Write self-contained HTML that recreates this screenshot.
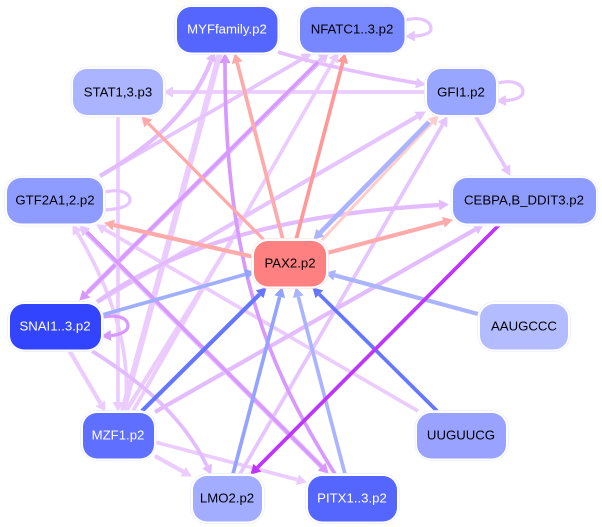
<!DOCTYPE html>
<html><head><meta charset="utf-8"><style>html,body{margin:0;padding:0;background:#fff}svg{display:block;filter:blur(0.3px)}text{font-family:"Liberation Sans",sans-serif;font-size:13.2px;text-anchor:middle}</style></head><body>
<svg width="602" height="527" viewBox="0 0 602 527" xmlns="http://www.w3.org/2000/svg">
<defs>
<marker id="a" markerUnits="userSpaceOnUse" markerWidth="11" markerHeight="11" refX="0" refY="5.5" orient="auto"><polygon points="0,0 10,5.5 0,11" fill="#ecccff"/></marker>
<marker id="b" markerUnits="userSpaceOnUse" markerWidth="11" markerHeight="11" refX="0" refY="5.5" orient="auto"><polygon points="0,0 10,5.5 0,11" fill="#e6c4ff"/></marker>
<marker id="c" markerUnits="userSpaceOnUse" markerWidth="11" markerHeight="11" refX="0" refY="5.5" orient="auto"><polygon points="0,0 10,5.5 0,11" fill="#e3bbff"/></marker>
<marker id="d" markerUnits="userSpaceOnUse" markerWidth="11" markerHeight="11" refX="0" refY="5.5" orient="auto"><polygon points="0,0 10,5.5 0,11" fill="#d899ff"/></marker>
<marker id="e" markerUnits="userSpaceOnUse" markerWidth="11" markerHeight="11" refX="0" refY="5.5" orient="auto"><polygon points="0,0 10,5.5 0,11" fill="#ffaaaa"/></marker>
<marker id="f" markerUnits="userSpaceOnUse" markerWidth="11" markerHeight="11" refX="0" refY="5.5" orient="auto"><polygon points="0,0 10,5.5 0,11" fill="#ff9999"/></marker>
<marker id="g" markerUnits="userSpaceOnUse" markerWidth="11" markerHeight="11" refX="0" refY="5.5" orient="auto"><polygon points="0,0 10,5.5 0,11" fill="#ffcccc"/></marker>
<marker id="h" markerUnits="userSpaceOnUse" markerWidth="11" markerHeight="11" refX="0" refY="5.5" orient="auto"><polygon points="0,0 10,5.5 0,11" fill="#aab4ff"/></marker>
<marker id="i" markerUnits="userSpaceOnUse" markerWidth="11" markerHeight="11" refX="0" refY="5.5" orient="auto"><polygon points="0,0 10,5.5 0,11" fill="#93a3ff"/></marker>
<marker id="j" markerUnits="userSpaceOnUse" markerWidth="11" markerHeight="11" refX="0" refY="5.5" orient="auto"><polygon points="0,0 10,5.5 0,11" fill="#6677ff"/></marker>
<marker id="k" markerUnits="userSpaceOnUse" markerWidth="11" markerHeight="11" refX="0" refY="5.5" orient="auto"><polygon points="0,0 10,5.5 0,11" fill="#c033ff"/></marker>
</defs>
<g fill="none" stroke-linecap="butt">
<path d="M118,116V402" stroke="#ecccff" stroke-width="3.7" marker-end="url(#a)"/>
<path d="M220,53L123,411" stroke="#ecccff" stroke-width="6"/>
<path d="M427,92H173" stroke="#ecccff" stroke-width="3.7" marker-end="url(#a)"/>
<path d="M418,411L104.8,229.5" stroke="#ecccff" stroke-width="3.7" marker-end="url(#a)"/>
<path d="M133,411L333.5,60.8" stroke="#ecccff" stroke-width="3.7" marker-end="url(#a)"/>
<path d="M126,411L232,240" stroke="#ecccff" stroke-width="4.2"/>
<path d="M155,442L297.3,479.7" stroke="#ecccff" stroke-width="3.7" marker-end="url(#a)"/>
<path d="M155,456L183.1,471.6" stroke="#ecccff" stroke-width="4.2" marker-end="url(#a)"/>
<path d="M69,350L100.4,403.2" stroke="#ecccff" stroke-width="4.2" marker-end="url(#a)"/>
<path d="M125,411Q135,330 77.5,233" stroke="#ecccff" stroke-width="3.7" marker-end="url(#a)"/>
<path d="M100,176L303,58.5" stroke="#e6c4ff" stroke-width="3.7" marker-end="url(#b)"/>
<path d="M278,52Q330,68 416,83" stroke="#e6bfff" stroke-width="3.7" marker-end="url(#b)"/>
<path d="M476,117L505.4,167.2" stroke="#e6c4ff" stroke-width="3.7" marker-end="url(#b)"/>
<path d="M240,474L442.5,124.8" stroke="#e6c4ff" stroke-width="3.7" marker-end="url(#b)"/>
<path d="M97,302L417.2,116.5" stroke="#e6c4ff" stroke-width="4.2" marker-end="url(#b)"/>
<path d="M97,302C170,250 270,215 439,205" stroke="#e3bbff" stroke-width="4.2" marker-end="url(#c)"/>
<path d="M155,412L475.2,229.5" stroke="#e3bbff" stroke-width="4.2" marker-end="url(#c)"/>
<path d="M100,176C145,150 190,115 211,61" stroke="#e3bbff" stroke-width="4.2" marker-end="url(#c)"/>
<path d="M92,351C130,375 180,410 207,466" stroke="#e3bbff" stroke-width="3.7" marker-end="url(#c)"/>
<path d="M88,292L321.6,59.4" stroke="#e6c4ff" stroke-width="5.2" marker-end="url(#b)"/>
<path d="M318,62L86.4,293.6" stroke="#d899ff" stroke-width="3.5" marker-end="url(#d)"/>
<path d="M325,470L86.4,232.4" stroke="#e6c4ff" stroke-width="5.2" marker-end="url(#b)"/>
<path d="M87,232L321.6,466.6" stroke="#d899ff" stroke-width="3.5" marker-end="url(#d)"/>
<path d="M335,474C270,370 225,270 225,63" stroke="#d899ff" stroke-width="3.7" marker-end="url(#d)"/>
<path d="M498,83C515,79 523,85 523,92C523,97 515,100 506,100.5" stroke="#e6c4ff" stroke-width="3.2" marker-end="url(#b)"/>
<path d="M405,20C423,16 431,22 431,29C431,33 424,35.5 415,36" stroke="#e6c4ff" stroke-width="3.2" marker-end="url(#b)"/>
<path d="M105,192C122,188 130,194 130,200C130,206 120,209 105,210" stroke="#e6c4ff" stroke-width="3.2"/>
<path d="M103,317C120,314 128,319 128,326C128,331 120,335 111,335.5" stroke="#d899ff" stroke-width="3.2" marker-end="url(#d)"/>
<path d="M265,241L148.3,123.4" stroke="#ffaaaa" stroke-width="3.2" marker-end="url(#e)"/>
<path d="M283,240L237.2,62.7" stroke="#ffaaaa" stroke-width="3.7" marker-end="url(#e)"/>
<path d="M296,240L342.7,62.7" stroke="#ff9999" stroke-width="3.7" marker-end="url(#f)"/>
<path d="M254,257L113.8,225" stroke="#ffaaaa" stroke-width="4.2" marker-end="url(#e)"/>
<path d="M327,253L443.3,222.3" stroke="#ffaaaa" stroke-width="4.2" marker-end="url(#e)"/>
<path d="M322,240L431.9,122.6" stroke="#ffcccc" stroke-width="3" marker-end="url(#g)"/>
<path d="M429,122L320.3,232.6" stroke="#aab4ff" stroke-width="4.7" marker-end="url(#h)"/>
<path d="M478,314L334.7,275.3" stroke="#aab4ff" stroke-width="4.2" marker-end="url(#h)"/>
<path d="M437,411L319.4,294.3" stroke="#6677ff" stroke-width="3.7" marker-end="url(#j)"/>
<path d="M345,474L298.3,296.7" stroke="#aab4ff" stroke-width="3.7" marker-end="url(#h)"/>
<path d="M233,474L279.7,296.7" stroke="#93a3ff" stroke-width="3.7" marker-end="url(#i)"/>
<path d="M142,411L259.6,294.3" stroke="#6677ff" stroke-width="4.2" marker-end="url(#j)"/>
<path d="M102,315L245.3,274.4" stroke="#a0aeff" stroke-width="3.7" marker-end="url(#i)"/>
<path d="M499,225L257.4,467.6" stroke="#c033ff" stroke-width="3.7" marker-end="url(#k)"/>
</g>
<g stroke="#eceeff" stroke-width="0.8">
<rect x="174.5" y="5" width="105" height="49.5" rx="17" fill="#fff"/>
<rect x="297.5" y="5" width="109" height="49.5" rx="17" fill="#fff"/>
<rect x="71" y="67" width="94.5" height="50" rx="17" fill="#fff"/>
<rect x="424.5" y="67" width="74" height="50" rx="17" fill="#fff"/>
<rect x="4.5" y="176" width="101" height="50" rx="17" fill="#fff"/>
<rect x="451" y="176" width="147" height="50" rx="17" fill="#fff"/>
<rect x="251.5" y="238.5" width="77" height="50" rx="17" fill="#fff" stroke="#ffe4e4"/>
<rect x="7.5" y="301.5" width="96" height="50" rx="17" fill="#fff"/>
<rect x="477.5" y="301.5" width="93" height="50" rx="17" fill="#fff"/>
<rect x="80.5" y="410.5" width="75.5" height="50" rx="17" fill="#fff"/>
<rect x="415" y="410.5" width="93.5" height="50" rx="17" fill="#fff"/>
<rect x="190.5" y="473.5" width="74" height="50" rx="17" fill="#fff"/>
<rect x="305.5" y="473.5" width="94" height="50" rx="17" fill="#fff"/>
</g>
<rect x="177" y="7" width="100.5" height="45.5" rx="14" fill="#5566ff"/>
<rect x="300" y="7" width="104.5" height="45.5" rx="14" fill="#7788ff"/>
<rect x="73" y="69" width="90" height="46" rx="14" fill="#aab4ff"/>
<rect x="427" y="69" width="69" height="46" rx="14" fill="#99a6ff"/>
<rect x="7" y="178" width="96" height="45.5" rx="14" fill="#8f9cff"/>
<rect x="453" y="178" width="143" height="45.5" rx="14" fill="#8f9cff"/>
<rect x="254" y="241" width="72" height="45.5" rx="14" fill="#ff8080"/>
<rect x="10" y="304" width="91" height="45.5" rx="14" fill="#3344ff"/>
<rect x="480" y="304" width="88" height="45.5" rx="14" fill="#b3bcff"/>
<rect x="83" y="413" width="71" height="45.5" rx="14" fill="#5f6fff"/>
<rect x="417" y="413" width="89" height="45.5" rx="14" fill="#99a2ff"/>
<rect x="193" y="476" width="69" height="45.5" rx="14" fill="#a2adff"/>
<rect x="308" y="476" width="89" height="45.5" rx="14" fill="#5566ff"/>
<text x="227" y="33.5" fill="#fff">MYFfamily.p2</text>
<text x="352" y="33.5" fill="#000">NFATC1..3.p2</text>
<text x="118" y="96.5" fill="#000">STAT1,3.p3</text>
<text x="461" y="96.5" fill="#000">GFI1.p2</text>
<text x="55" y="204.5" fill="#000">GTF2A1,2.p2</text>
<text x="524" y="204.5" fill="#000">CEBPA,B_DDIT3.p2</text>
<text x="290" y="267.5" fill="#000">PAX2.p2</text>
<text x="55" y="330.5" fill="#fff">SNAI1..3.p2</text>
<text x="524" y="330.5" fill="#000">AAUGCCC</text>
<text x="118" y="439.5" fill="#fff">MZF1.p2</text>
<text x="461" y="439.5" fill="#000">UUGUUCG</text>
<text x="227" y="502.5" fill="#000">LMO2.p2</text>
<text x="352" y="502.5" fill="#fff">PITX1..3.p2</text>
</svg>
</body></html>
